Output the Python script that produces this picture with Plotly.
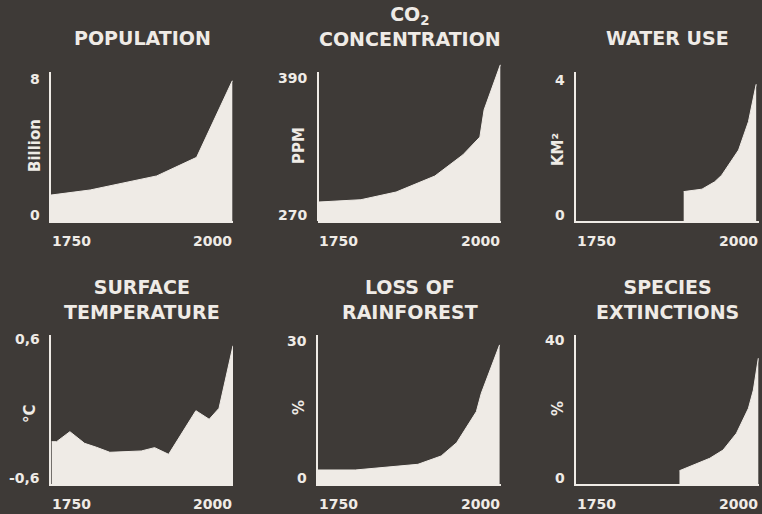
import plotly.graph_objects as go

W, H = 762, 514
BG = "#3e3a37"
FG = "#efebe6"
FONT = "DejaVu Sans"

# ---- data ----
pop_years = [1750, 1806, 1901, 1958, 2009]
pop_values = [1.48, 1.77, 2.57, 3.63, 8.0]

co2_years = [1750, 1811, 1861, 1916, 1956, 1980, 1986, 2009]
co2_values = [286, 288, 294.5, 308, 326, 341, 364, 402]

water_years = [1903, 1929, 1947, 1957, 1981, 1995, 2006]
water_values = [0.84, 0.91, 1.12, 1.31, 2.03, 2.84, 3.91]

temp_years = [1751, 1758, 1777, 1798, 1815, 1834, 1879, 1898, 1918, 1957, 1976, 1990, 2010]
temp_values = [-0.245, -0.245, -0.161, -0.259, -0.292, -0.334, -0.323, -0.295, -0.351,
               0.015, -0.057, 0.035, 0.56]

forest_years = [1750, 1803, 1892, 1925, 1947, 1975, 1982, 2008]
forest_values = [2.98, 2.98, 4.19, 5.96, 8.79, 15.4, 19.3, 29.6]

species_years = [1897, 1919, 1940, 1959, 1978, 1995, 2002, 2009]
species_values = [3.72, 5.5, 7.19, 9.51, 14.2, 21.2, 26.3, 35.2]

titles = ["POPULATION", "CO<sub>2</sub><br>CONCENTRATION", "WATER USE",
          "SURFACE<br>TEMPERATURE", "LOSS OF<br>RAINFOREST", "SPECIES<br>EXTINCTIONS"]
units = ["Billion", "PPM", "KM²", "°C", "%", "%"]
y_tick_text = [("0", "8"), ("270", "390"), ("0", "4"), ("-0,6", "0,6"), ("0", "30"), ("0", "40")]
y_tick_vals = [(0, 8), (270, 390), (0, 4), (-0.6, 0.6), (0, 30), (0, 40)]
x_tick_text = ("1750", "2000")
x_range = [1750, 2010]

panels = [
    (pop_years, pop_values),
    (co2_years, co2_values),
    (water_years, water_values),
    (temp_years, temp_values),
    (forest_years, forest_values),
    (species_years, species_values),
]

# ---- layout geometry (pixels) ----
col_px = [(51, 233), (318, 501), (576, 759)]
row_px = [(72, 221), (335, 484)]
y_ranges = [[0, 8.5], [270, 404.4], [0, 4.26], [-0.6, 0.65], [0, 31.7], [0, 41.7]]
unit_pos = [(35, 146), (299, 146), (558, 150), (30, 414), (299, 408), (558, 409)]
title_y = [38.5, 26.5, 38.5, 299.5, 299.5, 299.5]


def px_x(p):
    return p / W


def px_y(p):
    return 1 - p / H


fig = go.Figure()
annotations = []
shapes = []

for i, (years, values) in enumerate(panels):
    n = i + 1
    xr = "x" if n == 1 else f"x{n}"
    yr = "y" if n == 1 else f"y{n}"
    col = col_px[i % 3]
    row = row_px[i // 3]
    base = y_ranges[i][0]

    fig.add_trace(go.Scatter(x=years, y=[base] * len(years), mode="lines",
                             line=dict(width=0, color=FG), xaxis=xr, yaxis=yr,
                             hoverinfo="skip", showlegend=False))
    fig.add_trace(go.Scatter(x=years, y=values, mode="lines",
                             line=dict(width=1, color=FG), fill="tonexty",
                             fillcolor=FG, xaxis=xr, yaxis=yr, showlegend=False))

    top_px = row[0]
    show_yline = True
    if n == 2:
        top_px = 62
        show_yline = False
        shapes.append(dict(type="line", xref=f"{xr} domain", yref="paper",
                           x0=0, x1=0, y0=px_y(row[1]), y1=px_y(row[0]),
                           line=dict(color=FG, width=2)))

    xkey = "xaxis" if n == 1 else f"xaxis{n}"
    ykey = "yaxis" if n == 1 else f"yaxis{n}"
    fig.update_layout(**{
        xkey: dict(domain=[px_x(col[0]), px_x(col[1])], range=x_range, anchor=yr,
                   showline=True, linecolor=FG, linewidth=2, showgrid=False,
                   zeroline=False, showticklabels=False, ticks="", fixedrange=True),
        ykey: dict(domain=[px_y(row[1]), px_y(top_px)], range=y_ranges[i], anchor=xr,
                   showline=show_yline, linecolor=FG, linewidth=2, showgrid=False,
                   zeroline=False, showticklabels=False, ticks="", fixedrange=True),
    })

    # title
    annotations.append(dict(text=titles[i], xref=f"{xr} domain", x=0.5, xanchor="center",
                            yref="paper", y=px_y(title_y[i]), yanchor="middle",
                            showarrow=False, align="center",
                            font=dict(family=FONT, size=19, color=FG, weight="bold")))
    # y tick labels
    for val, txt, shift in zip(y_tick_vals[i], y_tick_text[i], (6, 1.5)):
        annotations.append(dict(text=txt, xref=f"{xr} domain", x=0, xanchor="right",
                                xshift=-9, yref=yr, y=val, yanchor="middle", yshift=shift,
                                showarrow=False,
                                font=dict(family=FONT, size=14, color=FG, weight="bold")))
    # x tick labels
    for xv, anchor, txt in ((0, "left", x_tick_text[0]), (1, "right", x_tick_text[1])):
        annotations.append(dict(text=txt, xref=f"{xr} domain", x=xv, xanchor=anchor,
                                xshift=-1 if anchor == "left" else 1,
                                yref=f"{yr} domain", y=0, yanchor="middle", yshift=-19.5,
                                showarrow=False,
                                font=dict(family=FONT, size=14, color=FG, weight="bold")))
    # unit label
    ux, uy = unit_pos[i]
    annotations.append(dict(text=units[i], xref="paper", x=px_x(ux), xanchor="center",
                            yref="paper", y=px_y(uy), yanchor="middle", textangle=-90,
                            showarrow=False,
                            font=dict(family=FONT, size=15, color=FG, weight="bold")))

fig.update_layout(width=W, height=H, margin=dict(l=0, r=0, t=0, b=0),
                  paper_bgcolor=BG, plot_bgcolor=BG,
                  annotations=annotations, shapes=shapes, showlegend=False)

fig.write_html("out.html",
               config={"displayModeBar": False, "staticPlot": True},
               post_script="document.body.style.margin='0';"
                           "document.body.style.overflow='hidden';"
                           f"document.body.style.background='{BG}';")
